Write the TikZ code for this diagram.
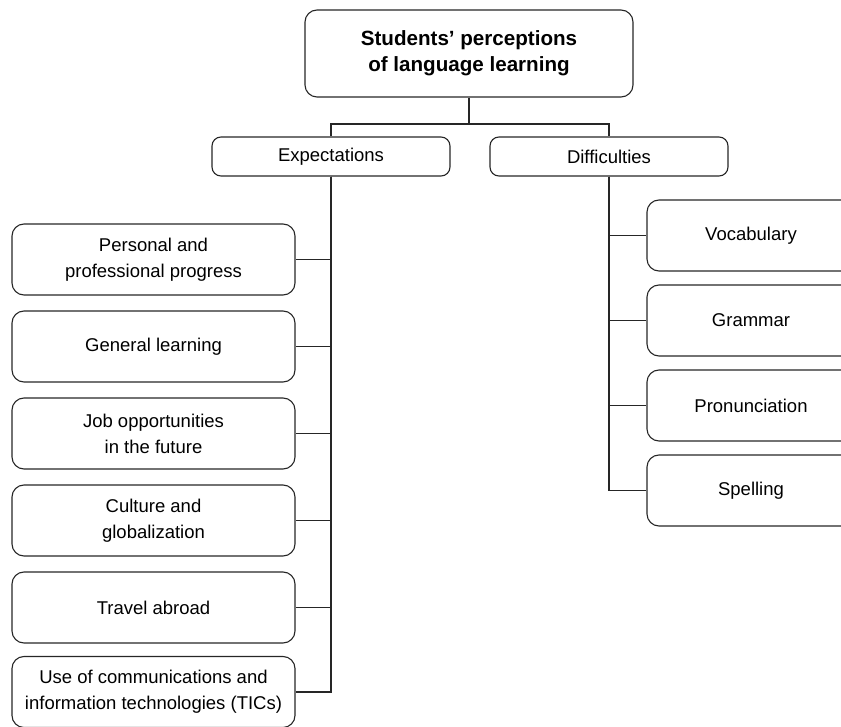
\documentclass[tikz,border=0pt]{standalone}
\usepackage{fontspec}
\setmainfont{Liberation Sans}
\begin{document}
\begin{tikzpicture}[x=1pt,y=-1pt,
  box/.style={draw=black!85, line width=1.1pt, rounded corners=12pt, align=center, font=\fontsize{18.5}{26}\selectfont, inner sep=0pt},
  lbox/.style={box, minimum width=283pt, minimum height=71pt},
  rbox/.style={box, minimum width=208pt, minimum height=71pt},
  mbox/.style={box, minimum width=238pt, minimum height=39pt, rounded corners=9pt},
  conn/.style={draw=black!85, line width=1.1pt}]
\useasboundingbox (0,0) rectangle (841,727);
\clip (0,0) rectangle (841,727);
\node[box, minimum width=328pt, minimum height=87pt, font=\bfseries\fontsize{20.6}{26}\selectfont] (root) at (469,53.5) {Students’ perceptions\\of language learning};
\node[mbox] (exp) at (331,156.5) {Expectations};
\node[mbox] (dif) at (609,156.5) {Difficulties};
\node[lbox] (e1) at (153.5,259.5) {Personal and\\professional progress};
\node[lbox] (e2) at (153.5,346.5) {General learning};
\node[lbox] (e3) at (153.5,433.5) {Job opportunities\\in the future};
\node[lbox] (e4) at (153.5,520.5) {Culture and\\globalization};
\node[lbox] (e5) at (153.5,607.5) {Travel abroad};
\node[lbox] (e6) at (153.5,692) {Use of communications and\\information technologies (TICs)};
\node[rbox] (d1) at (751,235.5) {Vocabulary};
\node[rbox] (d2) at (751,320.5) {Grammar};
\node[rbox] (d3) at (751,405.5) {Pronunciation};
\node[rbox] (d4) at (751,490.5) {Spelling};
\coordinate (j) at (469,124);
\draw[conn] (root.south) -- (j);
\draw[conn] (exp.north) |- (j) -| (dif.north);
\foreach \n in {e1,e2,e3,e4,e5,e6} \draw[conn] (exp.south) |- (\n.east);
\foreach \n in {d1,d2,d3,d4} \draw[conn] (dif.south) |- (\n.west);
\end{tikzpicture}
\end{document}
